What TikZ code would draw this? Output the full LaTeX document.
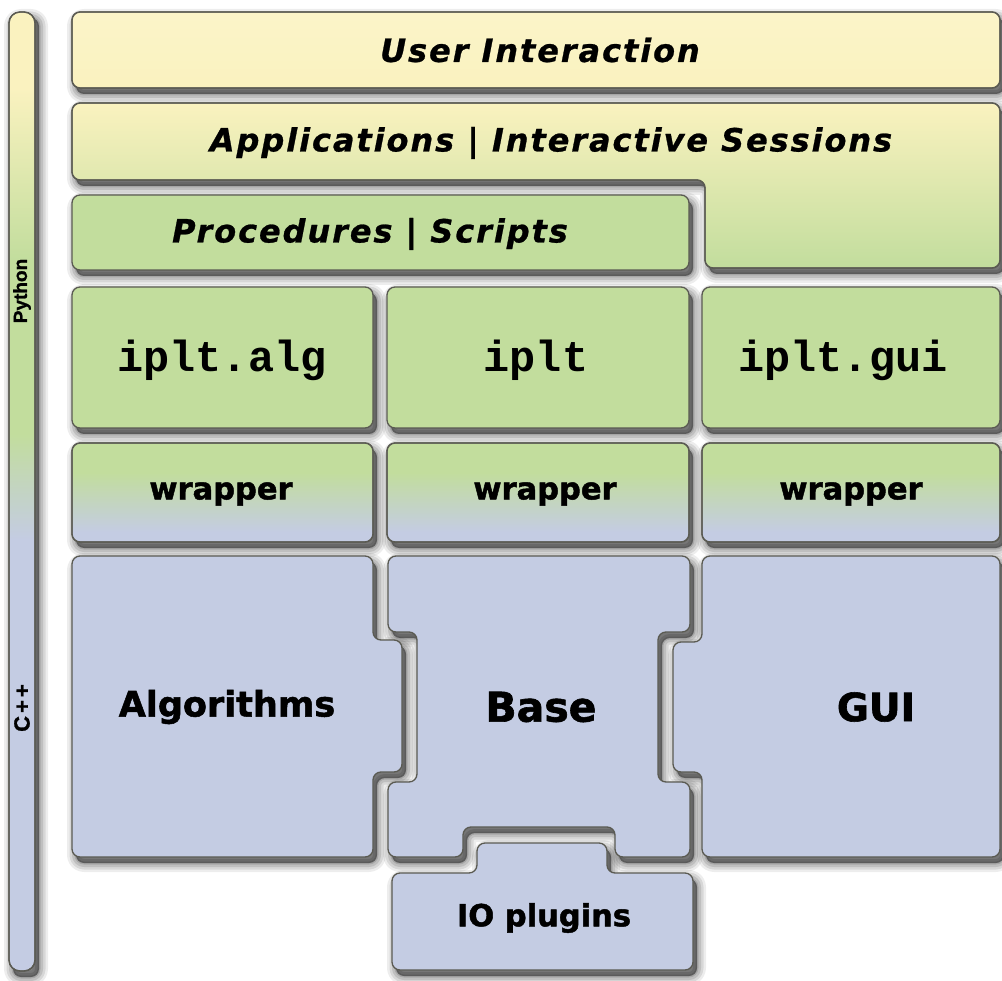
\documentclass[tikz,border=0pt]{standalone}
\usepackage{fontspec}
\newfontfamily\headfont[LetterSpace=6,FakeBold=0.8]{DejaVu Sans Bold Oblique}
\newfontfamily\heavyfont[FakeBold=1.5]{DejaVu Sans Bold}
\newfontfamily\codefont{Liberation Mono}
\newfontfamily\barfont[FakeBold=1.2]{Liberation Sans Bold}

\definecolor{yel}{HTML}{FAF2BF}
\definecolor{grn}{HTML}{C2DD9D}
\definecolor{blu}{HTML}{C4CCE3}
\definecolor{edge}{HTML}{5A5A52}

% vertical shadings: 25bp..75bp is mapped onto the path's bounding box
\pgfdeclareverticalshading{barshade}{100bp}{color(0bp)=(blu); color(47.5bp)=(blu); color(53bp)=(grn); color(62bp)=(grn); color(71bp)=(yel); color(100bp)=(yel)}
\pgfdeclareverticalshading{wrapshade}{100bp}{color(0bp)=(blu); color(30bp)=(blu); color(60bp)=(grn); color(100bp)=(grn)}
\pgfdeclareverticalshading{appshade}{100bp}{color(0bp)=(grn); color(25bp)=(grn); color(75bp)=(yel); color(100bp)=(yel)}

% soft drop shadow under a closed path
\newcommand\softshadow[1]{%
  \begin{scope}[shift={(4,6)}]
    \foreach \lw/\op in {18/0.07,13/0.09,8/0.11,3/0.13}{%
      \draw[line width=\lw pt,black,opacity=\op,rounded corners=8pt,line join=round] #1;}
    \fill[black,opacity=0.45,rounded corners=8pt] #1;
  \end{scope}}

% outlines of the blocks
\def\pBar{(9,12) rectangle (35,971)}
\def\pUI{(72,12) rectangle (1000,88)}
\def\pApp{(72,103) -- (1000,103) -- (1000,268) -- (705,268) -- (705,180) -- (72,180) -- cycle}
\def\pProc{(72,195) rectangle (689,270)}
\def\pPyA{(72,287) rectangle (373,428)}
\def\pPyB{(387,287) rectangle (689,428)}
\def\pPyC{(702,287) rectangle (1000,428)}
\def\pWrA{(72,443) rectangle (373,542)}
\def\pWrB{(387,443) rectangle (689,542)}
\def\pWrC{(702,443) rectangle (1000,542)}
\def\pAlg{(72,556) -- (373,556) -- (373,640) -- (402,640) -- (402,772) -- (373,772) -- (373,857) -- (72,857) -- cycle}
\def\pBase{(388,556) -- (690,556) -- (690,632) -- (658,632) -- (658,782) -- (690,782) -- (690,857) -- (615,857) -- (615,827) -- (463,827) -- (463,857) -- (388,857) -- (388,782) -- (417,782) -- (417,632) -- (388,632) -- cycle}
\def\pGui{(702,556) -- (1000,556) -- (1000,857) -- (702,857) -- (702,772) -- (673,772) -- (673,642) -- (702,642) -- cycle}
\def\pIO{(392,873) -- (477,873) -- (477,843) -- (607,843) -- (607,873) -- (693,873) -- (693,970) -- (392,970) -- cycle}

\tikzset{
  block/.style={draw=edge,line width=1.3pt,rounded corners=8pt},
  barblock/.style={draw=edge,line width=1.3pt,rounded corners=11pt},
  headtxt/.style={font={\headfont\fontsize{32}{38}\selectfont}},
  codetxt/.style={font={\codefont\bfseries\fontsize{43.5}{50}\selectfont}},
  bigtxt/.style={font={\heavyfont\fontsize{#1}{40}\selectfont}},
  bartxt/.style={font={\barfont\fontsize{#1}{20}\selectfont},rotate=90},
}

\begin{document}
\begin{tikzpicture}[x=1pt,y=-1pt]
\useasboundingbox (0,0) rectangle (1002,981);
\clip (0,0) rectangle (1002,981);
\fill[white] (0,0) rectangle (1002,981);

% shadows
\foreach \p in {\pBar,\pUI,\pApp,\pProc,\pPyA,\pPyB,\pPyC,\pWrA,\pWrB,\pWrC,\pAlg,\pBase,\pGui,\pIO}{\softshadow{\p}}

% language bar
\path[barblock,shading=barshade] \pBar;
\draw[barblock] \pBar;

% Python layers
\path[block,top color=yel!85!white,bottom color=yel] \pUI;
\draw[block] \pUI;
\path[block,shading=appshade] \pApp;
\draw[block] \pApp;
\draw[block,fill=grn] \pProc;
\draw[block,fill=grn] \pPyA;
\draw[block,fill=grn] \pPyB;
\draw[block,fill=grn] \pPyC;
\path[block,shading=wrapshade] \pWrA; \draw[block] \pWrA;
\path[block,shading=wrapshade] \pWrB; \draw[block] \pWrB;
\path[block,shading=wrapshade] \pWrC; \draw[block] \pWrC;

% C++ layers
\draw[block,fill=blu] \pAlg;
\draw[block,fill=blu] \pBase;
\draw[block,fill=blu] \pGui;
\draw[block,fill=blu] \pIO;

% labels
\node[bartxt=19] (python) at (22,291) {Python};
\node[bartxt=22] (cpp) at (22,708) {C\kern3pt+\kern3pt+};

\node[headtxt] (ui) at (540,50) {User Interaction};
\node[headtxt] (apps) at (551,143) {Applications | Interactive Sessions};
\node[headtxt] (proc) at (370,234) {Procedures | Scripts};

\node[codetxt] (ipltalg) at (222,360) {iplt.alg};
\node[codetxt] (iplt) at (536,360) {iplt};
\node[codetxt] (ipltgui) at (843,360) {iplt.gui};

\node[bigtxt=30.5] (wrapA) at (221,494) {wrapper};
\node[bigtxt=30.5] (wrapB) at (545,494) {wrapper};
\node[bigtxt=30.5] (wrapC) at (851,494) {wrapper};

\node[bigtxt=35] (alg) at (227,707) {Algorithms};
\node[bigtxt=41] (base) at (541,707) {Base};
\node[bigtxt=39] (gui) at (876,707) {GUI};
\node[bigtxt=30.5] (io) at (544,918) {IO plugins};
\end{tikzpicture}
\end{document}
